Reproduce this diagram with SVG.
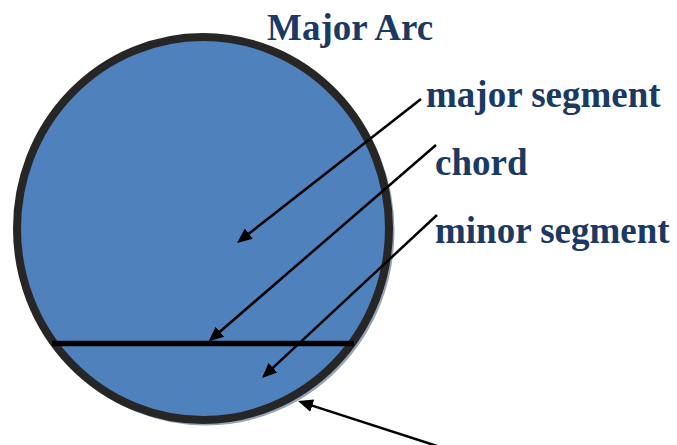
<svg xmlns="http://www.w3.org/2000/svg" width="677" height="445" viewBox="0 0 677 445">
  <style>
    .lbl { font-family: "Liberation Serif", "Times New Roman", serif; font-weight: bold; font-size: 37px; fill: #1b3a63; }
    .conn { stroke: #000; stroke-width: 2.5; fill: none; marker-end: url(#arrow); }
  </style>
  <defs>
    <marker id="arrow" markerUnits="userSpaceOnUse" viewBox="0 -8 16 16" markerWidth="16" markerHeight="16" refX="5" refY="0" orient="auto">
      <path d="M0,-6.5 L15,0 L0,6.5 Z" fill="#000"/>
    </marker>
  </defs>
  <rect width="677" height="445" fill="#fff"/>
  <g id="circle">
    <ellipse cx="205.5" cy="231" rx="186" ry="191.5" fill="none" stroke="#94a3b8" stroke-width="6"/>
    <ellipse cx="203" cy="228.5" rx="186" ry="191.5" fill="#4f81bd" stroke="#262626" stroke-width="8"/>
  </g>
  <g id="chord-line">
    <line x1="52" y1="343.5" x2="354" y2="343.5" stroke="#000" stroke-width="5.5"/>
  </g>
  <g id="connectors">
    <line class="conn" x1="421" y1="99" x2="244.9" y2="236.8"/>
    <line class="conn" x1="436" y1="145" x2="216.1" y2="335"/>
    <line class="conn" x1="437" y1="215" x2="269.3" y2="371.2"/>
    <line class="conn" x1="437" y1="446" x2="307.5" y2="404.1"/>
  </g>
  <g id="label-major-arc"><text class="lbl" x="267" y="40">Major Arc</text></g>
  <g id="label-major-segment"><text class="lbl" x="426" y="107">major segment</text></g>
  <g id="label-chord"><text class="lbl" x="435" y="175">chord</text></g>
  <g id="label-minor-segment"><text class="lbl" x="435" y="243">minor segment</text></g>
</svg>
